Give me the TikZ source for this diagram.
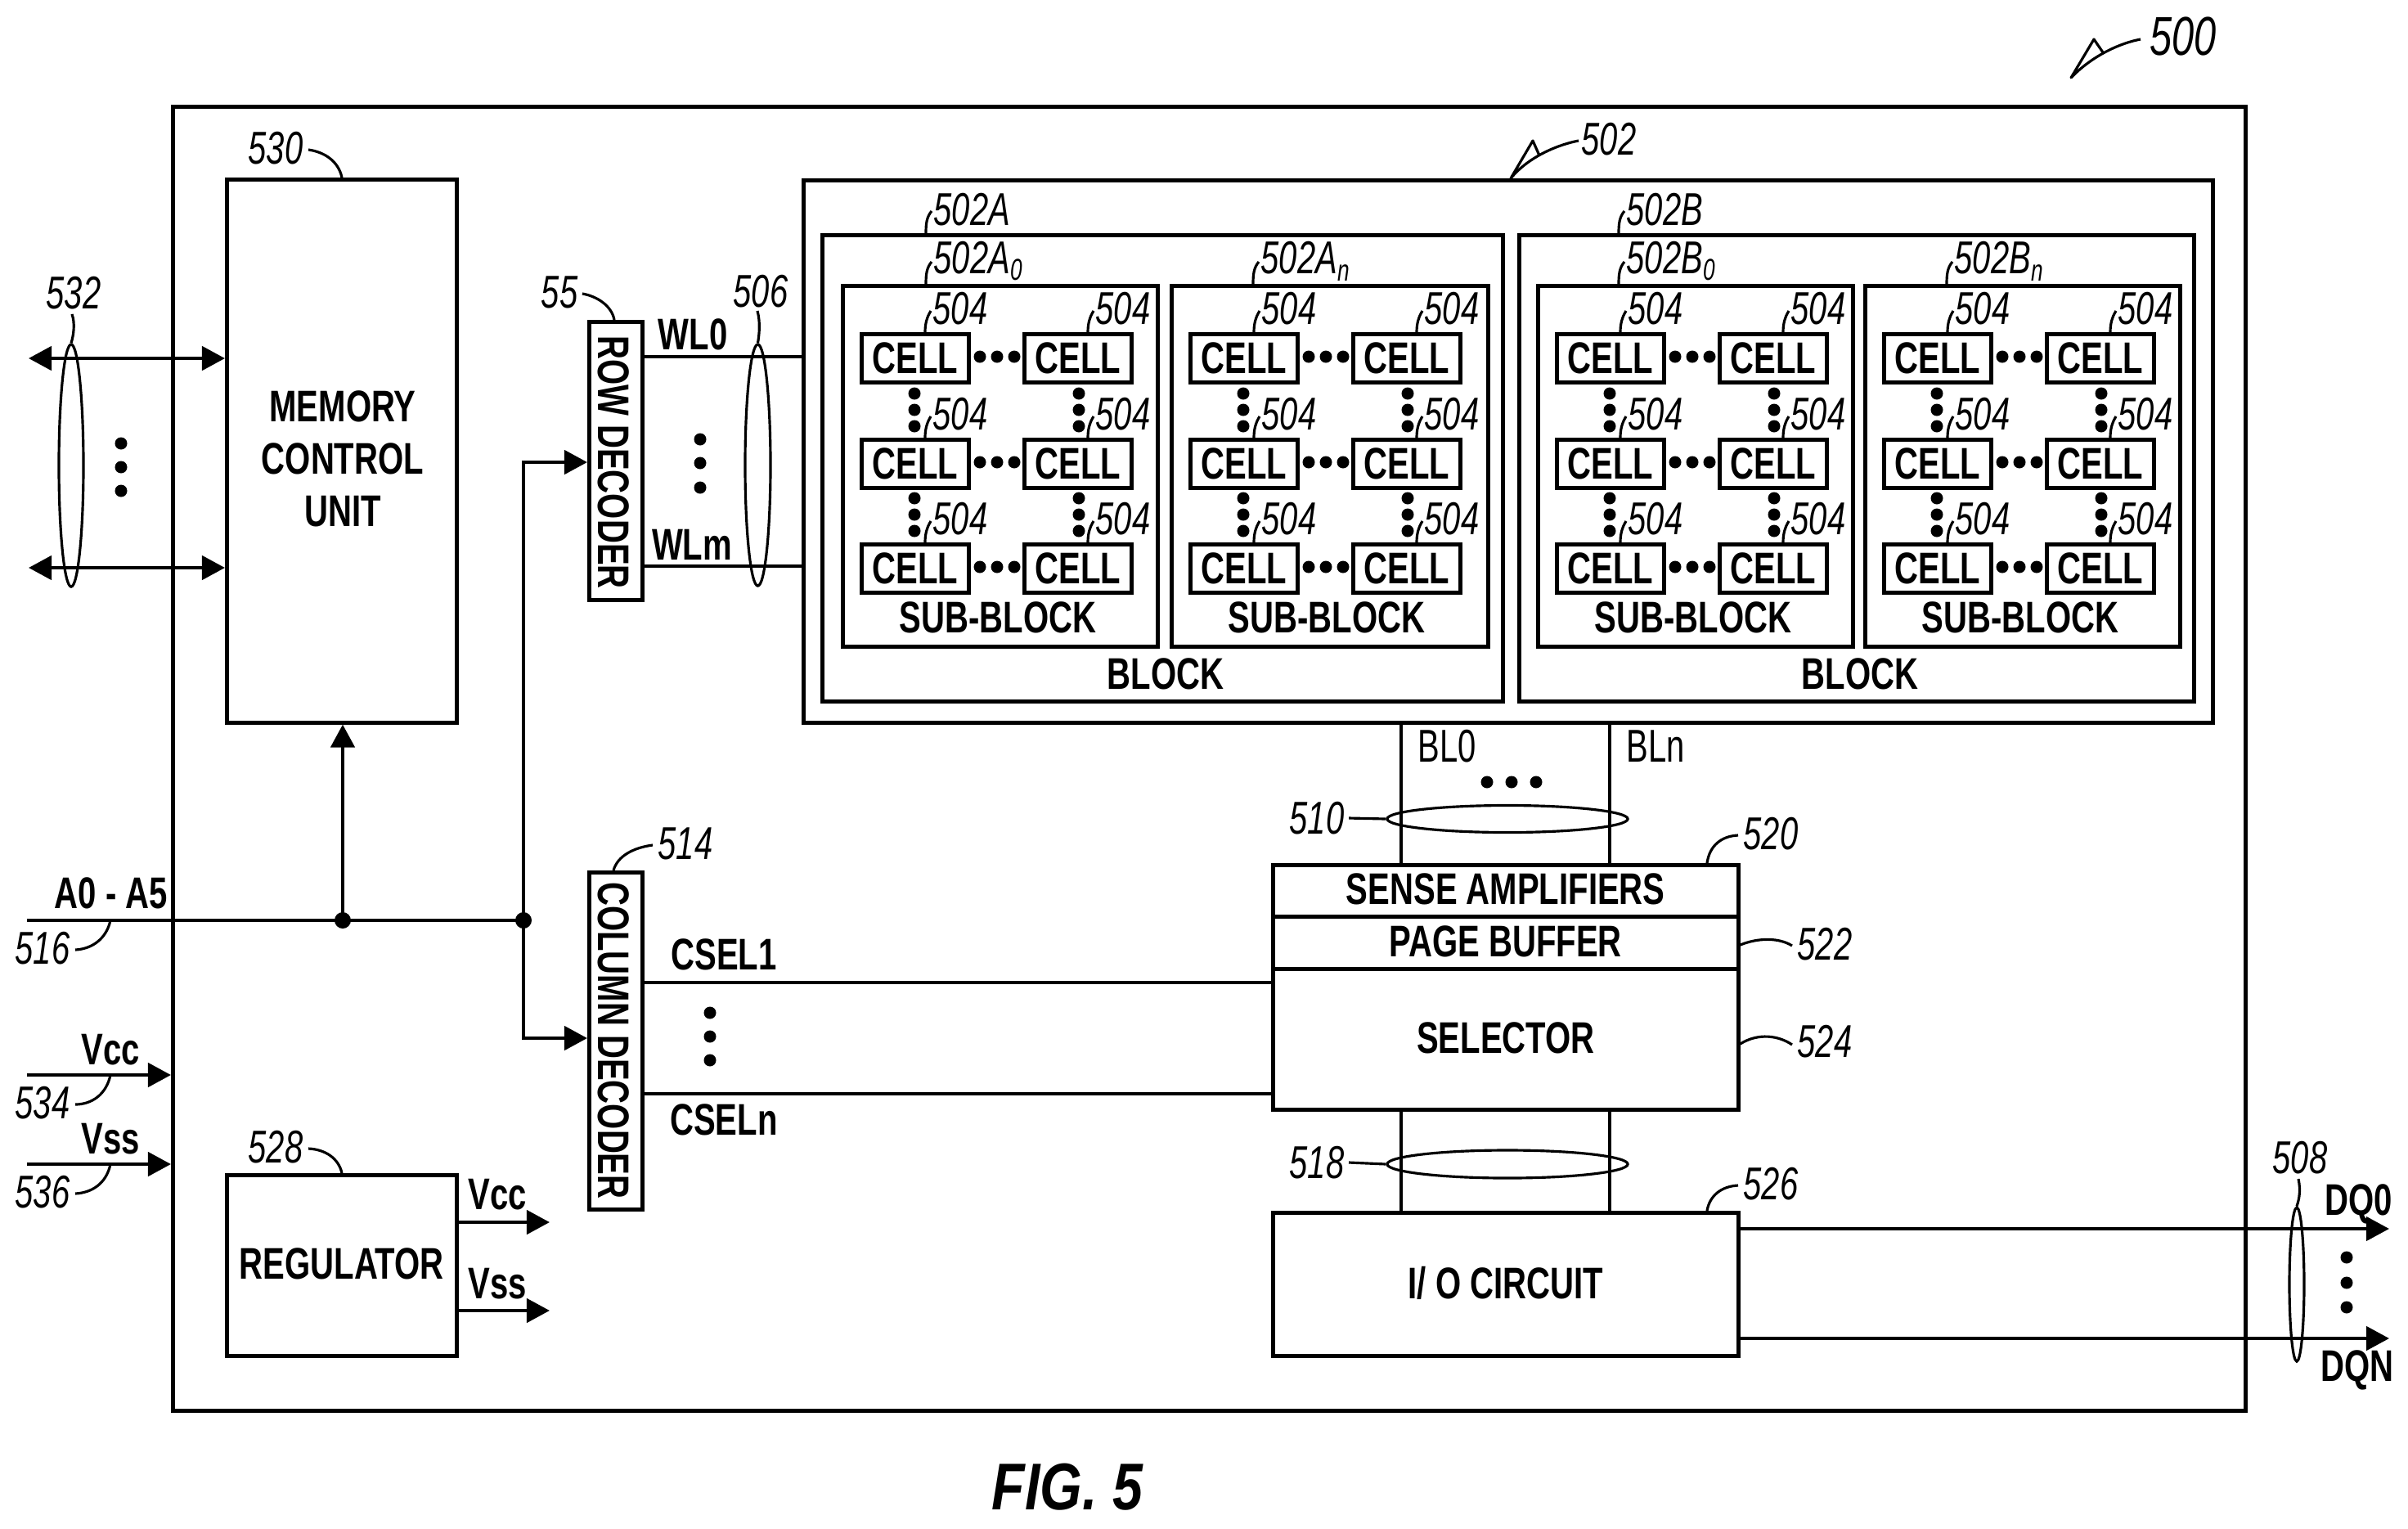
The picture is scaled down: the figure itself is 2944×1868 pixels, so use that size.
\documentclass[tikz,border=0pt]{standalone}
\usepackage{fontspec}
\usepackage{graphicx}
\setmainfont{Liberation Sans}
\usetikzlibrary{arrows.meta,shapes.geometric,calc}
\newcommand\nar[1]{\scalebox{.74}[1]{#1}}
\newcommand\nal[1]{\scalebox{.71}[1]{#1}}
\newcommand\boxt[1]{\raisebox{1pt}{\nar{\fontsize{15.4}{18}\selectfont\bfseries #1}}}
\newcommand\subdig[1]{\raisebox{-.3ex}{\fontsize{10.5}{11}\selectfont #1}}
\tikzset{
  x=0.01cm,y=-0.01cm,
  wire/.style={line width=1.3pt,line cap=butt},
  pbox/.style={draw,line width=1.3pt,rectangle,inner sep=0pt,anchor=north west,align=center},
  big/.style={font=\fontsize{15.4}{18.2}\selectfont\bfseries,inner sep=0pt,align=center},
  bl/.style={font=\fontsize{16}{18}\selectfont,inner sep=0pt},
  ref/.style={font=\fontsize{16}{18}\selectfont\itshape,inner sep=0pt},
  leader/.style={line width=.9pt},
  loop/.style={draw,ellipse,line width=.9pt,inner sep=0pt},
  dot/.style={circle,fill=black,inner sep=0pt,minimum size=.15cm},
  jdot/.style={circle,fill=black,inner sep=0pt,minimum size=.2cm},
  tip/.style={-{Triangle[length=.28cm,width=.29cm]}},
  ttip/.style={{Triangle[length=.28cm,width=.29cm]}-{Triangle[length=.28cm,width=.29cm]}},
}
% named rectangle: name, x1, y1, x2, y2, text
\newcommand\pb[6]{\node[pbox,minimum width={(#4-#2)*0.01cm},minimum height={(#5-#3)*0.01cm}] (#1) at (#2,#3) {#6};}
\begin{document}
\begin{tikzpicture}
\useasboundingbox (0,0) rectangle (2944,1868);
% containers
\pb{chip}{209}{128}{2743}{1722}{}
\pb{mem}{275}{217}{556}{881}{}
\node[big] (memt) at (419,561) {\nar{MEMORY}\\\nar{CONTROL}\\\nar{UNIT}};
\pb{arr}{980}{218}{2703}{881}{}
\pb{blka}{1003}{285}{1835}{855}{}
\pb{blkb}{1855}{285}{2680}{855}{}
\node[big] (blkat) at (1425,824) {\nar{BLOCK}};
\node[big] (blkbt) at (2274,824) {\nar{BLOCK}};
% sub-blocks
\foreach \n/\sx/\sw in {a0/1028/385,an/1430/387,b0/1878/385,bn/2278/385}{
  \pgfmathsetmacro\ex{\sx+\sw}
  \pb{sub\n}{\sx}{347}{\ex}{788}{}
  \pgfmathsetmacro\tx{\sx+192}
  \node[big] (subt\n) at (\tx,755) {\nar{SUB-BLOCK}};
  \foreach \r/\ry in {1/406,2/535,3/663}{
    \foreach \c/\dx in {l/23,r/222}{
      \pgfmathsetmacro\cx{\sx+\dx}
      \pgfmathsetmacro\cex{\cx+131}
      \pgfmathsetmacro\cey{\ry+59}
      \pb{cell\n\r\c}{\cx}{\ry}{\cex}{\cey}{\nar{\fontsize{15.4}{18}\selectfont\bfseries CELL}}
      \pgfmathsetmacro\lx{\cx+123}
      \pgfmathsetmacro\ly{\ry-29}
      \node[ref] (lab\n\r\c) at (\lx,\ly) {\nal{504}};
      \pgfmathsetmacro\lex{\cx+80}
      \pgfmathsetmacro\lexb{\cx+87}
      \pgfmathsetmacro\leyb{\ry-26}
      \draw[leader] (\lex,\ry) .. controls (\lex,\ry-10) and (\lex+2,\ry-18) .. (\lexb,\leyb);
    }
    \pgfmathsetmacro\dxa{\sx+170}\pgfmathsetmacro\dxb{\sx+191}\pgfmathsetmacro\dxc{\sx+212}
    \pgfmathsetmacro\dy{\ry+30}
    \foreach \i/\xx in {1/\dxa,2/\dxb,3/\dxc}{ \node[dot] (hd\n\r\i) at (\xx,\dy) {}; }
  }
  \foreach \rr/\ry in {1/481,2/609}{
    \foreach \c/\dx in {l/90,r/291}{
      \pgfmathsetmacro\vx{\sx+\dx}
      \foreach \i in {0,1,2}{
        \pgfmathsetmacro\vy{\ry+20*\i}
        \node[dot] (vd\n\rr\c\i) at (\vx,\vy) {};
      }
    }
  }
}
% decoders
\pb{rowd}{718}{391}{783}{731}{}
\node[big,rotate=-90,font=\fontsize{15.4}{18}\selectfont] (rowt) at (750.5,565) {\nar{\bfseries ROW DECODER}};
\pb{cold}{718}{1064}{783}{1476}{}
\node[big,rotate=-90,font=\fontsize{15.4}{18}\selectfont] (colt) at (750.5,1272) {\nar{\bfseries COLUMN DECODER}};
% right column
\pb{sa}{1554}{1055}{2123}{1118}{\boxt{SENSE AMPLIFIERS}}
\pb{pg}{1554}{1118}{2123}{1182}{\boxt{PAGE BUFFER}}
\pb{sel}{1554}{1182}{2123}{1354}{\boxt{SELECTOR}}
\pb{io}{1554}{1480}{2123}{1655}{\boxt{I/ O CIRCUIT}}
\pb{reg}{275}{1434}{556}{1655}{\boxt{REGULATOR}}
% free ends
\coordinate (a) at (33,1125);
\coordinate (j1) at (419,1125);
\coordinate (j2) at (640,1125);
\coordinate (vccin) at (33,1314);
\coordinate (vssin) at (33,1423);
\coordinate (ext1) at (35,438);
\coordinate (ext2) at (35,694);
\coordinate (vcco) at (672,1494);
\coordinate (vsso) at (672,1602);
\coordinate (dq0) at (2921,1502);
\coordinate (dqn) at (2921,1636);
% wires
\draw[wire] (a) -- (j1) -- (j2);
\draw[wire,tip] (j1) -- (mem.south -| j1);
\draw[wire,tip] (j2) |- (rowd.west |- 0,565);
\draw[wire,tip] (j2) |- (cold.west |- 0,1269);
\node[jdot] (jd1) at (j1) {};
\node[jdot] (jd2) at (j2) {};
\draw[wire,ttip] (ext1) -- (mem.west |- ext1);
\draw[wire,ttip] (ext2) -- (mem.west |- ext2);
\draw[wire,tip] (vccin) -- (chip.west |- vccin);
\draw[wire,tip] (vssin) -- (chip.west |- vssin);
\draw[wire,tip] (reg.east |- vcco) -- (vcco);
\draw[wire,tip] (reg.east |- vsso) -- (vsso);
\draw[wire] (rowd.east |- 0,436) -- (arr.west |- 0,436);
\draw[wire] (rowd.east |- 0,692) -- (arr.west |- 0,692);
\draw[wire] (cold.east |- 0,1201) -- (sel.west |- 0,1201);
\draw[wire] (cold.east |- 0,1337) -- (sel.west |- 0,1337);
\draw[wire] (arr.south -| 1713,0) -- (sa.north -| 1713,0);
\draw[wire] (arr.south -| 1968,0) -- (sa.north -| 1968,0);
\draw[wire] (sel.south -| 1713,0) -- (io.north -| 1713,0);
\draw[wire] (sel.south -| 1968,0) -- (io.north -| 1968,0);
\draw[wire,tip] (io.east |- dq0) -- (dq0);
\draw[wire,tip] (io.east |- dqn) -- (dqn);
% bundle loops
\node[loop,minimum width=.30cm,minimum height=2.96cm] (l532) at (87,569) {};
\node[loop,minimum width=.31cm,minimum height=2.95cm] (l506) at (926.5,568.5) {};
\node[loop,minimum width=2.94cm,minimum height=.33cm] (l510) at (1843,1001) {};
\node[loop,minimum width=2.94cm,minimum height=.34cm] (l518) at (1843,1423) {};
\node[loop,minimum width=.18cm,minimum height=1.88cm] (l508) at (2808,1570) {};
% dots
\foreach \n/\x/\y in {d1/148/542,d2/148/571,d3/148/600,d4/856/537,d5/856/566,d6/856/596,d7/868/1238,d8/868/1267,d9/868/1296,d10/1818/956,d11/1848/956,d12/1878/956,d13/2869/1537,d14/2869/1568,d15/2869/1598}{
  \node[dot] (\n) at (\x,\y) {};
}
% signal labels
\node[big] (t1) at (136,1092) {\nar{A0 - A5}};
\node[big] (t2) at (135,1283) {\nar{Vcc}};
\node[big] (t3) at (135,1392) {\nar{Vss}};
\node[big] (t4) at (608,1460) {\nar{Vcc}};
\node[big] (t5) at (608,1569) {\nar{Vss}};
\node[big] (t6) at (847,409) {\nar{WL0}};
\node[big] (t7) at (846,666) {\nar{WLm}};
\node[big] (t8) at (885,1167) {\nar{CSEL1}};
\node[big] (t9) at (885,1369) {\nar{CSELn}};
\node[bl] (t10) at (1769,912) {\nal{BL0}};
\node[bl] (t11) at (2024,912) {\nal{BLn}};
\node[big] (t12) at (2884,1472) {\nar{DQ0}};
\node[big] (t13) at (2882,1675) {\nar{DQN}};
% reference labels
\node[ref,font=\fontsize{19}{21}\selectfont\itshape] (r500) at (2669,44) {\scalebox{.73}[1]{500}};
\node[ref] (r502) at (1967,170) {\nal{502}};
\node[ref] (r530) at (337,181) {\nal{530}};
\node[ref] (r532) at (90,358) {\nal{532}};
\node[ref] (r55) at (684,357) {\nal{55}};
\node[ref] (r506) at (930,356) {\nal{506}};
\node[ref] (r516) at (52,1159) {\nal{516}};
\node[ref] (r534) at (52,1348) {\nal{534}};
\node[ref] (r536) at (52,1457) {\nal{536}};
\node[ref] (r528) at (337,1402) {\nal{528}};
\node[ref] (r514) at (838,1031) {\nal{514}};
\node[ref] (r510) at (1610,1000) {\nal{510}};
\node[ref] (r518) at (1610,1421) {\nal{518}};
\node[ref] (r520) at (2165,1019) {\nal{520}};
\node[ref] (r522) at (2231,1154) {\nal{522}};
\node[ref] (r524) at (2231,1273) {\nal{524}};
\node[ref] (r526) at (2165,1447) {\nal{526}};
\node[ref] (r508) at (2812,1415) {\nal{508}};
\node[ref,anchor=west] (ra) at (1141,256) {\nal{502A}};
\node[ref,anchor=west] (ra0) at (1141,319) {\nal{502A\subdig{0}}};
\node[ref,anchor=west] (ran) at (1541,319) {\nal{502A\subdig{n}}};
\node[ref,anchor=west] (rb) at (1988,256) {\nal{502B}};
\node[ref,anchor=west] (rb0) at (1988,319) {\nal{502B\subdig{0}}};
\node[ref,anchor=west] (rbn) at (2389,319) {\nal{502B\subdig{n}}};
\node[font=\fontsize{23}{28}\selectfont\bfseries\itshape,inner sep=0pt] (fig) at (1305,1818) {\scalebox{.82}[1]{FIG. 5}};
% leaders
\draw[leader] (r530.east) ++(6,2) .. controls (398,186) and (414,198) .. (mem.north -| 418,0);
\draw[leader] (88,384) .. controls (92,395) and (90,410) .. (l532.north);
\draw[leader] (r55.east) ++(5,2) .. controls (730,362) and (748,374) .. (rowd.north -| 751,0);
\draw[leader] (926,380) .. controls (930,395) and (928,410) .. (l506.north);
\draw[leader] (r516.east) ++(6,2) .. controls (112,1160) and (130,1148) .. (135,1125);
\draw[leader] (r534.east) ++(6,2) .. controls (112,1350) and (130,1338) .. (135,1314);
\draw[leader] (r536.east) ++(6,2) .. controls (112,1458) and (130,1447) .. (135,1423);
\draw[leader] (r528.east) ++(6,2) .. controls (398,1405) and (414,1416) .. (reg.north -| 418,0);
\draw[leader] (r514.west) ++(-6,2) .. controls (775,1036) and (755,1046) .. (cold.north -| 750,0);
\draw[leader] (r510.east) ++(5,0) -- (l510.west);
\draw[leader] (r518.east) ++(5,0) -- (l518.west);
\draw[leader] (r520.west) ++(-6,2) .. controls (2104,1022) and (2090,1034) .. (sa.north -| 2087,0);
\draw[leader] (r526.west) ++(-6,2) .. controls (2104,1450) and (2090,1462) .. (io.north -| 2087,0);
\draw[leader] (r522.west) ++(-6,2) .. controls (2175,1146) and (2150,1146) .. (pg.east |- 0,1155);
\draw[leader] (r524.west) ++(-6,4) .. controls (2175,1266) and (2150,1262) .. (sel.east |- 0,1276);
\draw[leader] (2810,1441) .. controls (2813,1455) and (2811,1466) .. (l508.north);
\foreach \a/\b in {1132/285,1132/347,1532/347,1979/285,1979/347,2380/347}{
  \draw[leader] (\a,\b) .. controls (\a,\b-12) and (\a+1,\b-20) .. (\a+7,\b-27);
}
% open-headed pointers
\draw[leader,line join=round] (2617,48) .. controls (2595,52) and (2560,66) .. (2532,95) -- (2560,48) -- (2571,64);
\draw[leader,line join=round] (1930,172) .. controls (1908,176) and (1870,190) .. (arr.north -| 1847,0) -- (1874,172) -- (1882,190);
\end{tikzpicture}
\end{document}
